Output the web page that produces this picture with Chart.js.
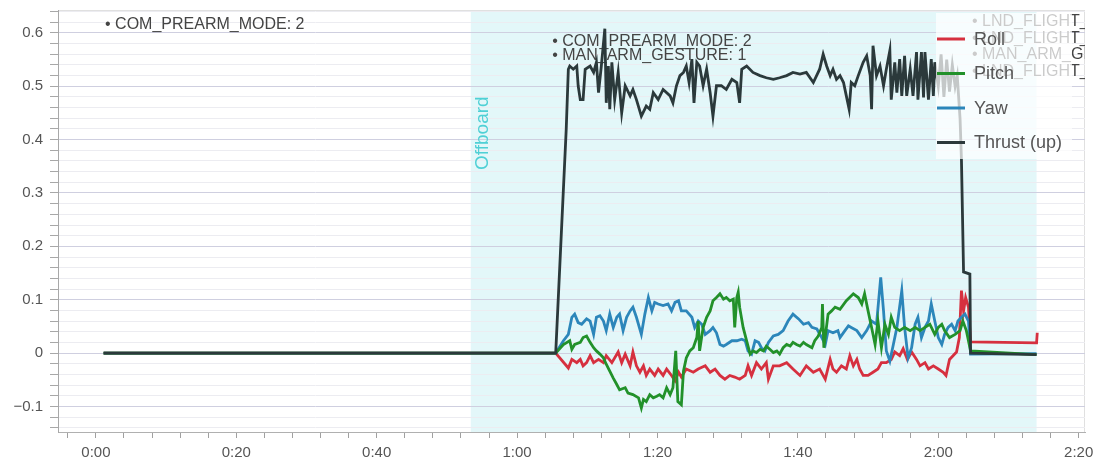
<!DOCTYPE html>
<html>
<head>
<meta charset="utf-8">
<script src="https://cdn.jsdelivr.net/npm/chart.js@4.4.0/dist/chart.umd.min.js"></script>
<style>
  html, body { margin: 0; padding: 0; background: #fff; }
</style>
</head>
<body>
<canvas id="grafico" width="1099" height="466"></canvas>
<script>
// Eixos
let xTickValues = [0, 20, 40, 60, 80, 100, 120, 140];
let xTickLabels = ["0:00", "0:20", "0:40", "1:00", "1:20", "1:40", "2:00", "2:20"];
let yTickValues = [-0.1, 0, 0.1, 0.2, 0.3, 0.4, 0.5, 0.6];
let yTickLabels = ["\u22120.1", "0", "0.1", "0.2", "0.3", "0.4", "0.5", "0.6"];

// Modo de voo (faixa sombreada)
let modoNome = "Offboard";
let modoInicio = 53.4;
let modoFim = 134.0;

// Mensagens / parametros
let eventoTempos = [1.3, 65.0, 124.8];
let eventoTextos = [
  ["COM_PREARM_MODE: 2"],
  ["COM_PREARM_MODE: 2", "MAN_ARM_GESTURE: 1"],
  ["LND_FLIGHT_T_HI: 1", "LND_FLIGHT_T_LO: 1", "MAN_ARM_GESTURE: 0", "LND_FLIGHT_T_HI: 0"],
];

let series = ["Roll", "Pitch", "Yaw", "Thrust (up)"];

// Roll
let rollT = [1.1, 65.5, 67.3, 67.8, 68.5, 69.0, 69.4, 69.9, 70.4, 70.9,
  71.6, 72.3, 72.7, 73.5, 74.4, 74.9, 75.4, 76.1, 76.5, 77.0,
  77.5, 78.0, 78.4, 78.9, 79.6, 80.1, 80.8, 81.3, 82.0, 82.5,
  83.0, 83.4, 84.1, 85.1, 85.8, 86.8, 87.5, 88.2, 88.9, 89.6,
  90.3, 91.0, 91.7, 92.5, 92.9, 93.4, 94.1, 94.8, 95.5, 95.8,
  96.5, 97.4, 98.4, 99.3, 100.3, 101.2, 102.2, 103.1, 103.9, 104.6,
  105.0, 105.5, 106.2, 106.9, 107.4, 107.9, 108.4, 108.8, 109.3, 110.0,
  110.7, 111.4, 111.9, 112.6, 113.3, 113.8, 114.5, 115.0, 115.6, 116.2,
  116.9, 117.4, 118.1, 118.6, 119.3, 120.0, 120.7, 121.1, 121.6, 122.1,
  122.6, 123.0, 123.3, 123.6, 123.9, 124.3, 124.6, 134.0, 134.1];
let rollV = [0, 0, -0.028, -0.012, -0.018, -0.012, -0.024, -0.018, -0.005, -0.018,
  -0.012, -0.018, -0.005, -0.018, 0.002, -0.018, -0.002, -0.024, 0.002, -0.024,
  -0.036, -0.024, -0.042, -0.030, -0.042, -0.030, -0.042, -0.030, -0.042, -0.052,
  -0.036, -0.045, -0.030, -0.036, -0.030, -0.024, -0.036, -0.030, -0.042, -0.049,
  -0.042, -0.045, -0.049, -0.042, -0.024, -0.042, -0.018, -0.030, -0.018, -0.049,
  -0.024, -0.024, -0.018, -0.030, -0.042, -0.024, -0.036, -0.030, -0.049, -0.012,
  -0.030, -0.036, -0.024, -0.030, -0.005, -0.024, -0.012, -0.030, -0.042, -0.042,
  -0.036, -0.030, -0.018, -0.018, -0.012, 0.002, -0.005, 0.008, -0.012, 0.002,
  -0.012, -0.024, -0.018, -0.030, -0.024, -0.030, -0.036, -0.042, -0.012, -0.005,
  0.002, 0.029, 0.117, 0.079, 0.104, 0.086, 0.021, 0.019, 0.038];

// Pitch
let pitchT = [1.1, 65.5, 66.6, 67.5, 67.8, 68.2, 69.0, 69.4, 69.9, 70.4,
  70.9, 71.3, 71.8, 72.3, 72.7, 73.2, 73.7, 74.2, 74.6, 75.4,
  75.8, 76.5, 77.3, 77.7, 78.0, 78.4, 78.9, 79.4, 79.9, 80.3,
  80.8, 81.3, 81.8, 82.2, 82.6, 82.9, 83.4, 83.7, 84.1, 84.6,
  85.1, 85.6, 85.8, 86.0, 86.5, 87.0, 87.5, 87.9, 88.4, 88.9,
  89.4, 89.8, 90.3, 90.8, 91.0, 91.3, 91.5, 91.7, 92.2, 92.7,
  93.2, 93.6, 94.1, 94.6, 95.1, 95.5, 96.0, 96.5, 97.0, 97.4,
  97.9, 98.4, 98.9, 99.3, 99.8, 100.3, 100.8, 101.2, 102.0, 102.4,
  102.9, 103.4, 103.5, 103.7, 104.3, 104.8, 105.3, 106.0, 106.9, 107.9,
  108.6, 109.1, 109.5, 110.0, 110.5, 111.0, 111.4, 111.9, 112.4, 112.9,
  113.3, 113.8, 114.5, 115.2, 116.0, 116.7, 117.4, 118.1, 118.8, 119.5,
  120.0, 120.5, 120.9, 121.6, 122.4, 123.1, 123.5, 124.0, 124.6, 134.0];
let pitchV = [0, 0, 0.016, 0.023, 0.007, 0.016, 0.020, 0.029, 0.032, 0.020,
  0.010, 0.004, -0.002, -0.009, -0.021, -0.034, -0.047, -0.059, -0.069, -0.065,
  -0.075, -0.078, -0.084, -0.103, -0.087, -0.091, -0.078, -0.084, -0.081, -0.078,
  -0.084, -0.065, -0.078, -0.065, 0.004, -0.091, -0.097, -0.034, -0.009, 0.004,
  0.010, 0.029, 0.060, 0.004, 0.048, 0.067, 0.079, 0.098, 0.104, 0.111,
  0.101, 0.104, 0.098, 0.101, 0.048, 0.104, 0.114, 0.086, 0.048, 0.023,
  -0.002, 0.004, 0.001, 0.007, 0.004, 0.013, 0.007, 0.001, 0.004, -0.002,
  0.010, 0.016, 0.013, 0.020, 0.016, 0.013, 0.020, 0.016, 0.010, 0.023,
  0.032, 0.048, 0.092, 0.010, 0.073, 0.079, 0.086, 0.082, 0.098, 0.111,
  0.104, 0.092, 0.111, 0.079, 0.048, 0.016, 0.060, 0.010, 0.054, 0.035,
  0.067, 0.048, 0.042, 0.048, 0.042, 0.048, 0.042, 0.048, 0.054, 0.035,
  0.048, 0.054, 0.042, 0.029, 0.035, 0.042, 0.060, 0.042, 0.004, -0.003];

// Yaw
let yawT = [1.1, 65.5, 66.6, 67.3, 67.8, 68.2, 68.7, 69.2, 69.9, 70.4,
  70.9, 71.3, 71.8, 72.3, 72.7, 73.2, 73.7, 74.2, 74.6, 75.1,
  75.6, 76.1, 76.5, 77.0, 77.7, 78.2, 78.7, 79.2, 79.6, 80.1,
  80.8, 81.5, 82.0, 82.5, 83.0, 83.4, 84.1, 84.9, 85.3, 85.8,
  86.3, 86.8, 87.5, 87.9, 88.4, 88.9, 89.4, 89.8, 90.6, 91.3,
  92.0, 92.5, 92.9, 93.4, 93.9, 94.4, 94.8, 95.3, 95.8, 96.5,
  97.2, 97.9, 98.6, 99.3, 100.1, 100.8, 101.5, 102.0, 102.7, 103.4,
  103.9, 104.3, 105.0, 105.7, 106.0, 106.7, 107.2, 107.6, 108.4, 109.1,
  109.8, 110.5, 111.2, 111.8, 112.2, 112.6, 113.1, 113.6, 114.1, 114.8,
  115.2, 115.7, 116.2, 116.7, 117.1, 117.6, 118.1, 118.6, 119.0, 119.5,
  120.0, 120.5, 120.9, 121.4, 121.9, 122.4, 122.8, 123.3, 123.8, 124.3,
  124.6, 134.0];
let yawV = [0, 0, 0.023, 0.035, 0.067, 0.073, 0.057, 0.054, 0.064, 0.060,
  0.035, 0.067, 0.070, 0.060, 0.042, 0.073, 0.048, 0.067, 0.073, 0.042,
  0.067, 0.079, 0.086, 0.067, 0.035, 0.073, 0.104, 0.079, 0.095, 0.092,
  0.089, 0.092, 0.079, 0.095, 0.098, 0.079, 0.079, 0.067, 0.048, 0.060,
  0.054, 0.035, 0.042, 0.048, 0.038, 0.016, 0.013, 0.016, 0.023, 0.023,
  0.026, 0.023, 0.004, -0.002, 0.023, 0.020, 0.010, 0.004, 0.020, 0.032,
  0.035, 0.042, 0.060, 0.073, 0.064, 0.054, 0.057, 0.048, 0.045, 0.029,
  0.016, 0.042, 0.038, 0.042, 0.029, 0.042, 0.051, 0.048, 0.042, 0.029,
  0.042, 0.060, 0.054, 0.142, 0.079, 0.004, -0.015, 0.016, 0.048, 0.117,
  0.048, -0.009, 0.010, 0.054, 0.067, 0.029, 0.048, 0.060, 0.092, 0.060,
  0.029, 0.016, 0.035, 0.048, 0.054, 0.042, 0.060, 0.067, 0.073, 0.060,
  -0.002, -0.001];

// Thrust (up)
let thrustT = [1.1, 65.5, 67.0, 67.3, 67.5, 68.0, 68.5, 68.7, 69.0, 69.4,
  69.7, 70.4, 70.9, 71.3, 71.6, 72.0, 72.5, 72.7, 73.0, 73.2,
  73.5, 73.9, 74.4, 74.9, 75.4, 76.1, 76.5, 77.0, 77.7, 78.4,
  78.9, 79.4, 80.1, 80.8, 81.8, 82.2, 82.7, 83.2, 83.7, 84.1,
  84.5, 84.9, 85.2, 85.6, 86.0, 86.5, 87.0, 87.5, 87.9, 88.4,
  89.1, 89.8, 90.6, 91.3, 91.7, 92.0, 92.7, 93.6, 94.6, 95.5,
  96.5, 97.4, 98.4, 99.3, 100.3, 101.2, 102.2, 103.1, 103.6, 104.1,
  104.6, 105.0, 105.5, 106.0, 106.5, 106.9, 107.3, 107.6, 108.1, 108.6,
  109.3, 109.8, 110.3, 110.5, 110.7, 111.2, 111.7, 112.2, 112.6, 113.1,
  113.3, 113.8, 114.1, 114.5, 114.8, 115.2, 115.5, 116.0, 116.4, 116.9,
  117.1, 117.6, 117.9, 118.1, 118.6, 119.0, 119.3, 119.5, 120.0, 120.4,
  120.8, 121.2, 121.6, 122.0, 122.4, 122.7, 123.1, 123.3, 123.6, 124.5,
  124.6, 134.0];
let thrustV = [0, 0, 0.42, 0.532, 0.538, 0.532, 0.538, 0.501, 0.475, 0.475,
  0.532, 0.538, 0.526, 0.545, 0.488, 0.538, 0.608, 0.469, 0.538, 0.457,
  0.545, 0.475, 0.526, 0.450, 0.501, 0.482, 0.494, 0.475, 0.444, 0.463,
  0.457, 0.488, 0.475, 0.494, 0.482, 0.469, 0.501, 0.520, 0.526, 0.538,
  0.507, 0.551, 0.469, 0.545, 0.538, 0.501, 0.532, 0.488, 0.444, 0.501,
  0.501, 0.494, 0.513, 0.507, 0.469, 0.532, 0.538, 0.526, 0.520, 0.516,
  0.513, 0.516, 0.520, 0.526, 0.523, 0.526, 0.507, 0.532, 0.560, 0.538,
  0.520, 0.532, 0.513, 0.520, 0.507, 0.482, 0.457, 0.507, 0.501, 0.520,
  0.545, 0.557, 0.520, 0.457, 0.576, 0.520, 0.538, 0.501, 0.532, 0.567,
  0.475, 0.545, 0.488, 0.551, 0.482, 0.557, 0.482, 0.532, 0.482, 0.564,
  0.475, 0.564, 0.479, 0.564, 0.475, 0.551, 0.482, 0.545, 0.500, 0.560,
  0.480, 0.550, 0.490, 0.540, 0.500, 0.520, 0.440, 0.362, 0.152, 0.148,
  0, -0.003];

let cores = ["#d6303f", "#22912a", "#2c86ba", "#2b393b"];
let fonte = "'Liberation Sans', Arial, sans-serif";

function pontos(ts, vs) {
  return ts.map((t, i) => ({ x: t, y: vs[i] }));
}

// Ticks menores: x a cada 4 s, y a cada 0.02
let xMenores = [];
for (let v = -4; v <= 140; v += 4) xMenores.push(v);
let yMenores = [];
for (let k = -7; k <= 32; k++) yMenores.push(Math.round(k * 2) / 100);

function ehMaior(v) {
  return Math.abs(v * 10 - Math.round(v * 10)) < 1e-6;
}

// Plugin: faixa do modo de voo, mensagens e legenda
const faixaModo = {
  id: "faixaModo",
  beforeDraw(chart) {
    const { ctx, chartArea: a, scales } = chart;
    const x0 = scales.x.getPixelForValue(modoInicio);
    const x1 = scales.x.getPixelForValue(modoFim);
    ctx.save();
    ctx.fillStyle = "#e3f7f9";
    ctx.fillRect(x0, a.top, x1 - x0, a.bottom - a.top);
    ctx.strokeStyle = "#e0e0e0";
    ctx.lineWidth = 1;
    ctx.strokeRect(a.left + 0.5, a.top + 0.5, a.right - a.left - 1, a.bottom - a.top);
    ctx.restore();
  },
  beforeDatasetsDraw(chart) {
    const { ctx, chartArea: a, scales } = chart;
    const x0 = scales.x.getPixelForValue(modoInicio);
    ctx.save();
    ctx.translate(x0 + 12, a.top + 160);
    ctx.rotate(-Math.PI / 2);
    ctx.fillStyle = "#4fd0d5";
    ctx.font = "19px " + fonte;
    ctx.textAlign = "left";
    ctx.textBaseline = "middle";
    ctx.fillText(modoNome, 0, 0);
    ctx.restore();

    // mensagens
    const inicioLinha = [15, 32, 12];
    const passoLinha = [14, 14, 16.5];
    ctx.save();
    ctx.beginPath();
    ctx.rect(a.left, a.top, a.right - a.left, a.bottom - a.top);
    ctx.clip();
    ctx.fillStyle = "#444";
    ctx.font = "16px " + fonte;
    ctx.textAlign = "left";
    ctx.textBaseline = "middle";
    eventoTempos.forEach((t, i) => {
      const px = scales.x.getPixelForValue(t);
      eventoTextos[i].forEach((txt, j) => {
        ctx.fillText("\u2022 " + txt, px, a.top + inicioLinha[i] + j * passoLinha[i]);
      });
    });
    ctx.restore();
  },
  afterDatasetsDraw(chart) {
    const { ctx, chartArea: a } = chart;
    ctx.save();
    ctx.fillStyle = "rgba(255,255,255,0.72)";
    ctx.fillRect(a.right - 149, a.top + 3, 136, 146);
    ctx.font = "18px " + fonte;
    ctx.textAlign = "left";
    ctx.textBaseline = "middle";
    chart.data.datasets.forEach((ds, i) => {
      const y = a.top + 29 + i * 34.5;
      ctx.strokeStyle = ds.borderColor;
      ctx.lineWidth = 3;
      ctx.beginPath();
      ctx.moveTo(a.right - 148, y);
      ctx.lineTo(a.right - 120, y);
      ctx.stroke();
      ctx.fillStyle = "#555";
      ctx.fillText(ds.label, a.right - 111, y + 1);
    });
    ctx.restore();
  },
};

const dadosSeries = [pontos(rollT, rollV), pontos(pitchT, pitchV), pontos(yawT, yawV), pontos(thrustT, thrustV)];
const ordem = [3, 1, 2, 0];

new Chart(document.getElementById("grafico"), {
  type: "line",
  data: {
    datasets: series.map((nome, i) => ({
      label: nome,
      data: dadosSeries[i],
      borderColor: cores[i],
      backgroundColor: cores[i],
      borderWidth: 2.8,
      pointRadius: 0,
      tension: 0,
      order: ordem[i],
    })),
  },
  options: {
    responsive: false,
    animation: false,
    devicePixelRatio: 1,
    layout: { padding: { left: 0, right: 14, top: 10, bottom: 0 } },
    plugins: { legend: { display: false }, tooltip: { enabled: false } },
    scales: {
      x: {
        type: "linear",
        min: -5.4,
        max: 140.9,
        afterBuildTicks: (s) => { s.ticks = xMenores.map((v) => ({ value: v })); },
        afterFit: (s) => { s.height = 34; s.paddingLeft = 0; s.paddingRight = 0; },
        ticks: {
          autoSkip: false,
          maxRotation: 0,
          padding: 6,
          color: "#555",
          font: { size: 15, family: fonte },
          callback: (v) => {
            const i = xTickValues.indexOf(Math.round(v));
            return i >= 0 && Math.abs(v - Math.round(v)) < 1e-6 ? xTickLabels[i] : "";
          },
        },
        grid: { drawOnChartArea: false, drawTicks: true, tickLength: 6, tickColor: "#a0a0a0" },
        border: { color: "#b0b0b0" },
      },
      y: {
        min: -0.148,
        max: 0.643,
        afterBuildTicks: (s) => { s.ticks = yMenores.map((v) => ({ value: v })); },
        afterFit: (s) => { s.width = 58; s.paddingTop = 0; s.paddingBottom = 0; },
        ticks: {
          autoSkip: false,
          padding: 7,
          color: "#555",
          font: { size: 15, family: fonte },
          callback: (v) => {
            if (!ehMaior(v)) return "";
            const i = yTickValues.findIndex((t) => Math.abs(t - v) < 1e-6);
            return i >= 0 ? yTickLabels[i] : "";
          },
        },
        grid: {
          color: (c) => (c.tick && ehMaior(c.tick.value) ? "#cfcfe0" : "#ececf1"),
          tickColor: "#a8a8a8",
          tickLength: 8,
        },
        border: { color: "#a8a8a8" },
      },
    },
  },
  plugins: [faixaModo],
});
</script>
</body>
</html>
